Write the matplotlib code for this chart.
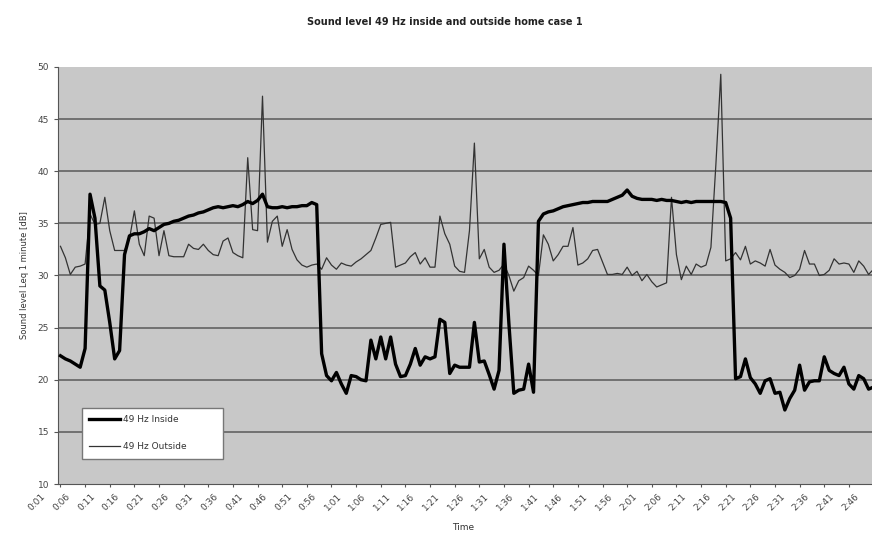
import numpy as np
import matplotlib.pyplot as plt
from matplotlib.transforms import ScaledTranslation

# one value per minute, 0:01 .. 2:46
inside = [
    22.3, 22.0, 21.8, 21.5, 21.2, 23.0, 37.8, 35.5, 29.0, 28.6,
    25.5, 22.0, 22.8, 32.0, 33.8, 34.0, 34.0, 34.2, 34.5, 34.3,
    34.6, 34.9, 35.0, 35.2, 35.3, 35.5, 35.7, 35.8, 36.0, 36.1,
    36.3, 36.5, 36.6, 36.5, 36.6, 36.7, 36.6, 36.8, 37.1, 36.9,
    37.2, 37.8, 36.6, 36.5, 36.5, 36.6, 36.5, 36.6, 36.6, 36.7,
    36.7, 37.0, 36.8, 22.5, 20.4, 19.9, 20.7, 19.6, 18.7, 20.4,
    20.3, 20.0, 19.9, 23.8, 22.0, 24.1, 22.0, 24.1, 21.5, 20.3,
    20.4, 21.5, 23.0, 21.4, 22.2, 22.0, 22.2, 25.8, 25.5, 20.6,
    21.4, 21.2, 21.2, 21.2, 25.5, 21.7, 21.8, 20.5, 19.1, 20.9,
    33.0, 25.4, 18.7, 19.0, 19.1, 21.5, 18.8, 35.2, 35.9, 36.1,
    36.2, 36.4, 36.6, 36.7, 36.8, 36.9, 37.0, 37.0, 37.1, 37.1,
    37.1, 37.1, 37.3, 37.5, 37.7, 38.2, 37.6, 37.4, 37.3, 37.3,
    37.3, 37.2, 37.3, 37.2, 37.2, 37.1, 37.0, 37.1, 37.0, 37.1,
    37.1, 37.1, 37.1, 37.1, 37.1, 37.0, 35.5, 20.1, 20.3, 22.0,
    20.2, 19.6, 18.7, 19.9, 20.1, 18.7, 18.8, 17.1, 18.2, 19.0,
    21.4, 19.0, 19.8, 19.9, 19.9, 22.2, 20.9, 20.6, 20.4, 21.2,
    19.6, 19.1, 20.4, 20.1, 19.1, 19.3,
]
outside = [
    32.8, 31.7, 30.1, 30.8, 30.9, 31.1, 35.9, 34.9, 35.0, 37.5,
    34.3, 32.4, 32.4, 32.4, 33.5, 36.2, 33.0, 31.9, 35.7, 35.5,
    31.9, 34.3, 31.9, 31.8, 31.8, 31.8, 33.0, 32.6, 32.5, 33.0,
    32.4, 32.0, 31.9, 33.3, 33.6, 32.2, 31.9, 31.7, 41.3, 34.4,
    34.3, 47.2, 33.2, 35.2, 35.7, 32.8, 34.4, 32.5, 31.5, 31.0,
    30.8, 31.0, 31.1, 30.6, 31.7, 31.0, 30.6, 31.2, 31.0, 30.9,
    31.3, 31.6, 32.0, 32.4, 33.6, 34.9, 35.0, 35.1, 30.8, 31.0,
    31.2, 31.8, 32.2, 31.1, 31.7, 30.8, 30.8, 35.7, 34.0, 33.0,
    30.9, 30.4, 30.3, 34.3, 42.7, 31.6, 32.5, 30.8, 30.3, 30.5,
    31.1, 30.0, 28.5, 29.5, 29.8, 30.9, 30.5, 30.0, 33.9, 33.0,
    31.4, 32.0, 32.8, 32.8, 34.6, 31.0, 31.2, 31.6, 32.4, 32.5,
    31.3, 30.1, 30.1, 30.2, 30.1, 30.8, 30.0, 30.4, 29.5, 30.1,
    29.4, 28.9, 29.1, 29.3, 37.5, 32.0, 29.6, 30.9, 30.1, 31.1,
    30.8, 31.0, 32.7, 40.6, 49.3, 31.4, 31.6, 32.2, 31.5, 32.8,
    31.1, 31.4, 31.2, 30.9, 32.5, 31.0, 30.6, 30.3, 29.8, 30.0,
    30.6, 32.4, 31.1, 31.1, 30.0, 30.1, 30.5, 31.6, 31.1, 31.2,
    31.1, 30.3, 31.4, 30.9, 30.1, 30.6,
]
tick_labels = ['0:01', '0:06', '0:11', '0:16', '0:21', '0:26', '0:31', '0:36',
               '0:41', '0:46', '0:51', '0:56', '1:01', '1:06', '1:11', '1:16',
               '1:21', '1:26', '1:31', '1:36', '1:41', '1:46', '1:51', '1:56',
               '2:01', '2:06', '2:11', '2:16', '2:21', '2:26', '2:31', '2:36',
               '2:41', '2:46']

x = np.arange(1, len(inside) + 1)

fig = plt.figure(figsize=(8.72, 5.39), dpi=100)
ax = fig.add_axes([58 / 872, 55 / 539, 818 / 872, 417 / 539])
ax.set_facecolor('#c8c8c8')

for v in range(15, 50, 5):
    ax.axhline(v, color='#5a5a5a', lw=1.1, zorder=1)

ax.plot(x, outside, color='#333333', lw=0.9, label='49 Hz Outside', zorder=2)
ax.plot(x, inside, color='black', lw=2.4, label='49 Hz Inside', zorder=3)

ax.set_xlim(0.5, 166.5)
ax.set_ylim(10, 50)
ax.set_yticks(range(10, 51, 5))
ax.tick_params(axis='y', labelsize=6.5, labelcolor='#444444', color='#555555',
               length=3, direction='out')
ax.set_xticks(x[::5])
ax.set_xticklabels(tick_labels, rotation=45, ha='right', fontsize=6.5, color='#444444')
ax.tick_params(axis='x', length=2, color='#555555')
off = ScaledTranslation(-13 / 100, 0, fig.dpi_scale_trans)
for lab in ax.get_xticklabels():
    lab.set_transform(lab.get_transform() + off)

for s in ['top', 'right']:
    ax.spines[s].set_visible(False)
ax.spines['left'].set_color('#555555')
ax.spines['bottom'].set_color('#555555')

ax.set_ylabel('Sound level Leq 1 minute [dB]', fontsize=6, color='#333333', labelpad=6)
ax.set_xlabel('Time', fontsize=6.5, color='#333333')
ax.xaxis.set_label_coords((463 - 58) / 818, -0.093)
fig.text(445 / 872, 1 - 22 / 539, 'Sound level 49 Hz inside and outside home case 1',
         ha='center', va='center', fontsize=7, fontweight='bold', color='#222222')

handles, labels = ax.get_legend_handles_labels()
leg = ax.legend(handles[::-1], labels[::-1], loc='lower left',
                bbox_to_anchor=(0.024, 0.05, 0.183, 0.117), mode='expand',
                fontsize=6.5, frameon=True, fancybox=False, borderpad=0.8,
                labelspacing=2.0, handlelength=3.4, handletextpad=0.3)
leg.get_frame().set_facecolor('white')
leg.get_frame().set_edgecolor('#777777')
leg.get_frame().set_alpha(1)
for t in leg.get_texts():
    t.set_color('#333333')

fig.savefig('out.png', dpi=100)
